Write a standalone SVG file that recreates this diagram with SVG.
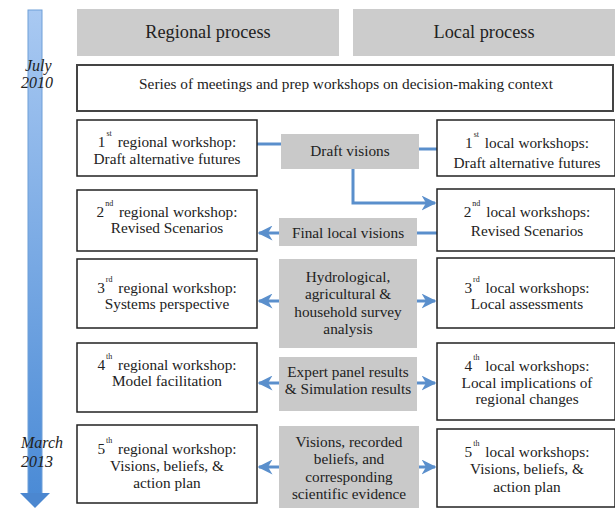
<svg xmlns="http://www.w3.org/2000/svg" width="615" height="528" viewBox="0 0 615 528" font-family="'Liberation Serif', 'DejaVu Serif', serif">
<defs>
<linearGradient id="tl" x1="0" y1="0" x2="0" y2="1">
<stop offset="0" stop-color="#a9c9f2"/>
<stop offset="1" stop-color="#4b8bd6"/>
</linearGradient>
<marker id="ah" viewBox="0 0 10 10" refX="9" refY="5" markerWidth="5" markerHeight="5" orient="auto" markerUnits="strokeWidth">
<path d="M0,0 L10,5 L0,10 L3,5 Z" fill="#5a8fcc"/>
</marker>
<style>
text{font-family:'Liberation Serif','DejaVu Serif',serif;fill:#222;text-anchor:middle;font-size:15.3px}
.hd{fill:#cccccc;stroke:none}
.hdt{font-size:18.3px}
.box{fill:#fff;stroke:#222;stroke-width:1.5}
.gray{fill:#c9c9c9;stroke:none}
.sup{font-size:8px}
.date{font-style:italic;text-anchor:start;font-size:16px}
.con{fill:none;stroke:#5a8fcc;stroke-width:3}
</style>
</defs>
<rect width="615" height="528" fill="#fff"/>

<g id="timeline">
<rect x="28" y="10" width="14" height="485" fill="url(#tl)" stroke="#6f9fd8" stroke-width="1"/>
<path d="M20,493 L50,493 L35,508 Z" fill="#4b87d0"/>
<text class="date" x="25" y="71">July</text>
<text class="date" x="21" y="88">2010</text>
<text class="date" x="21" y="448">March</text>
<text class="date" x="21" y="467">2013</text>
</g>

<g id="hdr-regional">
<rect class="hd" x="77" y="9" width="262" height="47"/>
<text class="hdt" x="208" y="38">Regional process</text>
</g>
<g id="hdr-local">
<rect class="hd" x="353" y="9" width="262" height="47"/>
<text class="hdt" x="484" y="38">Local process</text>
</g>

<g id="series">
<rect x="77" y="65" width="536" height="46" fill="#fff" stroke="#444" stroke-width="2"/>
<text x="346" y="89">Series of meetings and prep workshops on decision-making context</text>
</g>

<g id="connectors">
<line class="con" x1="257" y1="144" x2="281" y2="144"/>
<line class="con" x1="419" y1="149" x2="437" y2="149"/>
<polyline class="con" points="353,169 353,203 435,203" marker-end="url(#ah)"/>
<line class="con" x1="279" y1="233" x2="259" y2="233" marker-end="url(#ah)"/>
<line class="con" x1="437" y1="233" x2="417" y2="233"/>
<line class="con" x1="279" y1="301" x2="259" y2="301" marker-end="url(#ah)"/>
<line class="con" x1="417" y1="301" x2="435" y2="301" marker-end="url(#ah)"/>
<line class="con" x1="279" y1="383" x2="259" y2="383" marker-end="url(#ah)"/>
<line class="con" x1="417" y1="383" x2="435" y2="383" marker-end="url(#ah)"/>
<line class="con" x1="279" y1="467" x2="259" y2="467" marker-end="url(#ah)"/>
<line class="con" x1="419" y1="467" x2="435" y2="467" marker-end="url(#ah)"/>
</g>

<g id="reg1">
<rect class="box" x="77" y="120" width="180" height="56"/>
<text x="167" y="147">1<tspan class="sup" dx="1" dy="-11">st</tspan><tspan dx="2" dy="11"> regional workshop:</tspan></text>
<text x="167" y="164">Draft alternative futures</text>
</g>
<g id="draft">
<rect class="gray" x="281" y="134" width="138" height="35"/>
<text x="350" y="156">Draft visions</text>
</g>
<g id="loc1">
<rect class="box" x="437" y="120" width="178" height="56"/>
<text x="527" y="148">1<tspan class="sup" dx="1" dy="-11">st</tspan><tspan dx="2" dy="11"> local workshops:</tspan></text>
<text x="527" y="168">Draft alternative futures</text>
</g>

<g id="reg2">
<rect class="box" x="77" y="190" width="180" height="61"/>
<text x="167" y="217">2<tspan class="sup" dx="1" dy="-11">nd</tspan><tspan dx="2" dy="11"> regional workshop:</tspan></text>
<text x="167" y="233">Revised Scenarios</text>
</g>
<g id="final">
<rect class="gray" x="279" y="218" width="138" height="28"/>
<text x="348" y="238">Final local visions</text>
</g>
<g id="loc2">
<rect class="box" x="437" y="189" width="178" height="62"/>
<text x="527" y="217">2<tspan class="sup" dx="1" dy="-11">nd</tspan><tspan dx="2" dy="11"> local workshops:</tspan></text>
<text x="527" y="236">Revised Scenarios</text>
</g>

<g id="reg3">
<rect class="box" x="77" y="259" width="180" height="69"/>
<text x="167" y="293">3<tspan class="sup" dx="1" dy="-11">rd</tspan><tspan dx="2" dy="11"> regional workshop:</tspan></text>
<text x="167" y="309">Systems perspective</text>
</g>
<g id="hydro">
<rect class="gray" x="279" y="259" width="138" height="89"/>
<text x="348" y="282">Hydrological,</text>
<text x="348" y="299">agricultural &amp;</text>
<text x="348" y="317">household survey</text>
<text x="348" y="334">analysis</text>
</g>
<g id="loc3">
<rect class="box" x="437" y="258" width="178" height="70"/>
<text x="527" y="293">3<tspan class="sup" dx="1" dy="-11">rd</tspan><tspan dx="2" dy="11"> local workshops:</tspan></text>
<text x="527" y="309">Local assessments</text>
</g>

<g id="reg4">
<rect class="box" x="77" y="343" width="180" height="69"/>
<text x="167" y="370">4<tspan class="sup" dx="1" dy="-11">th</tspan><tspan dx="2" dy="11"> regional workshop:</tspan></text>
<text x="167" y="386">Model facilitation</text>
</g>
<g id="expert">
<rect class="gray" x="279" y="357" width="138" height="54"/>
<text x="348" y="377">Expert panel results</text>
<text x="348" y="394">&amp; Simulation results</text>
</g>
<g id="loc4">
<rect class="box" x="437" y="343" width="178" height="77"/>
<text x="527" y="371">4<tspan class="sup" dx="1" dy="-11">th</tspan><tspan dx="2" dy="11"> local workshops:</tspan></text>
<text x="527" y="388">Local implications of</text>
<text x="527" y="404">regional changes</text>
</g>

<g id="reg5">
<rect class="box" x="77" y="425" width="180" height="78"/>
<text x="167" y="454">5<tspan class="sup" dx="1" dy="-11">th</tspan><tspan dx="2" dy="11"> regional workshop:</tspan></text>
<text x="167" y="471">Visions, beliefs, &amp;</text>
<text x="167" y="488">action plan</text>
</g>
<g id="visions">
<rect class="gray" x="279" y="426" width="140" height="82"/>
<text x="349" y="447">Visions, recorded</text>
<text x="349" y="464">beliefs, and</text>
<text x="349" y="482">corresponding</text>
<text x="349" y="499">scientific evidence</text>
</g>
<g id="loc5">
<rect class="box" x="437" y="429" width="178" height="78"/>
<text x="527" y="457">5<tspan class="sup" dx="1" dy="-11">th</tspan><tspan dx="2" dy="11"> local workshops:</tspan></text>
<text x="527" y="474">Visions, beliefs, &amp;</text>
<text x="527" y="492">action plan</text>
</g>
</svg>
